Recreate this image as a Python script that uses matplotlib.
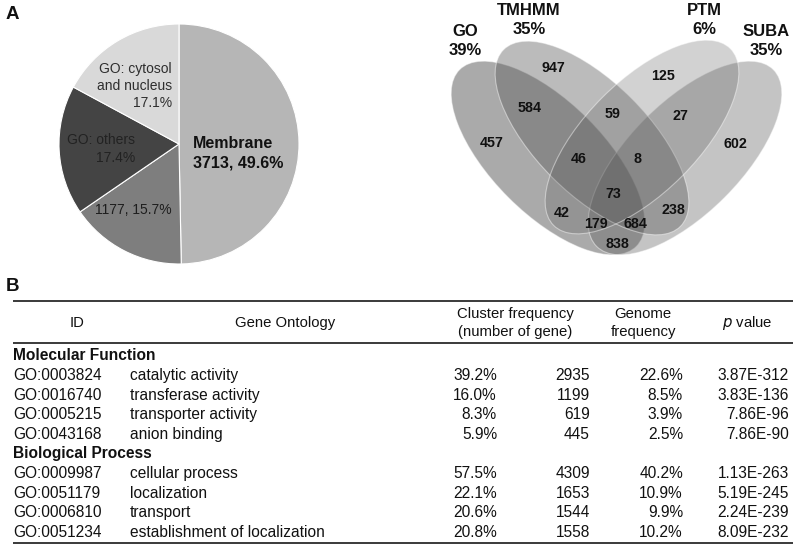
import matplotlib
matplotlib.use('Agg')
import matplotlib.pyplot as plt
from matplotlib.patches import Ellipse

plt.rcParams['font.family'] = ['Liberation Sans', 'DejaVu Sans']

# ---------------- data ----------------
pie_names = ['Membrane', '', 'GO: others', 'GO: cytosol\nand nucleus']
pie_pct = [49.6, 15.7, 17.4, 17.1]
pie_counts = [3713, 1177, None, None]
pie_colors = ['#b6b6b6', '#7e7e7e', '#444444', '#d9d9d9']

venn_sets = ['GO', 'TMHMM', 'PTM', 'SUBA']
venn_set_pct = [39, 35, 6, 35]
venn_region_keys = ['GO', 'TMHMM', 'PTM', 'SUBA',
                    'GO&TMHMM', 'TMHMM&PTM', 'PTM&SUBA',
                    'GO&TMHMM&PTM', 'TMHMM&PTM&SUBA', 'ALL',
                    'GO&PTM', 'TMHMM&SUBA', 'GO&PTM&SUBA',
                    'GO&TMHMM&SUBA', 'GO&SUBA']
venn_region_counts = [457, 947, 125, 602, 584, 59, 27, 46, 8, 73,
                      42, 238, 179, 684, 838]

table_header = ['ID', 'Gene Ontology', 'Cluster frequency\n(number of gene)',
                'Genome\nfrequency', 'p value']
mf_ids = ['GO:0003824', 'GO:0016740', 'GO:0005215', 'GO:0043168']
mf_terms = ['catalytic activity', 'transferase activity',
            'transporter activity', 'anion binding']
mf_cluster_pct = ['39.2%', '16.0%', '8.3%', '5.9%']
mf_genes = [2935, 1199, 619, 445]
mf_genome_pct = ['22.6%', '8.5%', '3.9%', '2.5%']
mf_p = ['3.87E-312', '3.83E-136', '7.86E-96', '7.86E-90']
bp_ids = ['GO:0009987', 'GO:0051179', 'GO:0006810', 'GO:0051234']
bp_terms = ['cellular process', 'localization', 'transport',
            'establishment of localization']
bp_cluster_pct = ['57.5%', '22.1%', '20.6%', '20.8%']
bp_genes = [4309, 1653, 1544, 1558]
bp_genome_pct = ['40.2%', '10.9%', '9.9%', '10.2%']
bp_p = ['1.13E-263', '5.19E-245', '2.24E-239', '8.09E-232']

# ---------------- figure ----------------
W, H = 796, 546
fig = plt.figure(figsize=(W / 100, H / 100), dpi=100)

# pie axes (pixel box)
pcx, pcy, pr = 179, 144, 120
box = 260
pax = fig.add_axes([(pcx - box / 2) / W, 1 - (pcy + box / 2) / H, box / W, box / H])
pax.pie(pie_pct, startangle=90, counterclock=False, colors=pie_colors,
        radius=1.0, wedgeprops=dict(edgecolor='white', linewidth=0.8))
lim = box / 2 / pr
pax.set_xlim(-lim, lim)
pax.set_ylim(-lim, lim)
pax.set_aspect('auto')
pax.axis('off')

ax = fig.add_axes([0, 0, 1, 1])
ax.set_xlim(0, W)
ax.set_ylim(H, 0)
ax.axis('off')

PX = 100 / 72.0


def T(x, yc, s, size, ha='center', weight='normal', color='#111111', **kw):
    """Place text so that its cap-height centre is at yc (pixels)."""
    ax.text(x, yc + 0.716 * size * PX / 2, s, ha=ha, va='baseline',
            fontsize=size, fontweight=weight, color=color, **kw)


# panel letters
T(6, 12, 'A', 13.5, ha='left', weight='bold')
T(6, 284, 'B', 13.5, ha='left', weight='bold')

# pie labels
T(193, 142, pie_names[0], 11.5, ha='left', weight='bold')
T(193, 162, f'{pie_counts[0]}, {pie_pct[0]}%', 11.5, ha='left', weight='bold')
cyt = pie_names[3].split('\n')
T(172, 68, cyt[0], 10, ha='right', color='#2e2e2e')
T(172, 85, cyt[1], 10, ha='right', color='#2e2e2e')
T(172, 102, f'{pie_pct[3]}%', 10, ha='right', color='#2e2e2e')
T(135, 139, pie_names[2], 10, ha='right', color='#222222')
T(135, 157, f'{pie_pct[2]}%', 10, ha='right', color='#222222')
T(172, 209, f'{pie_counts[1]}, {pie_pct[1]}%', 10, ha='right', color='#1e1e1e')

# venn ellipses
g = 0.36
ell_geom = {
    'GO': ((548, 158), 45, 0.52),
    'SUBA': ((685, 158), 135, 0.36),
    'TMHMM': ((592, 138), 45, 0.41),
    'PTM': ((642, 137), 135, 0.27),
}
for name in ['GO', 'SUBA', 'TMHMM', 'PTM']:
    (cx, cy), ang, a = ell_geom[name]
    e = Ellipse((cx, cy), width=250, height=112, angle=ang,
                facecolor=(g, g, g, a), edgecolor=(1, 1, 1, 0.45), linewidth=0.8)
    ax.add_patch(e)

set_label_pos = {'GO': (465, 30), 'TMHMM': (529, 9), 'PTM': (704, 9), 'SUBA': (766, 30)}
for name, pct in zip(venn_sets, venn_set_pct):
    x, y = set_label_pos[name]
    T(x, y, name, 12, weight='bold')
    T(x, y + 19, f'{pct}%', 12, weight='bold')

region_pos = {
    'GO': (492, 142), 'TMHMM': (553, 67), 'PTM': (663, 75), 'SUBA': (735, 143),
    'GO&TMHMM': (530, 107), 'TMHMM&PTM': (613, 113), 'PTM&SUBA': (680, 115),
    'GO&TMHMM&PTM': (579, 158), 'TMHMM&PTM&SUBA': (638, 158), 'ALL': (613, 193),
    'GO&PTM': (562, 212), 'TMHMM&SUBA': (673, 209), 'GO&PTM&SUBA': (596, 223),
    'GO&TMHMM&SUBA': (635, 223), 'GO&SUBA': (617, 243),
}
for k, v in zip(venn_region_keys, venn_region_counts):
    x, y = region_pos[k]
    T(x, y, str(v), 10.3, weight='bold')

# ---------------- table ----------------
rule_c = '#3a3a3a'
ax.plot([13, 793], [301, 301], color=rule_c, lw=1.4, solid_capstyle='butt')
ax.plot([13, 793], [343, 343], color=rule_c, lw=1.4, solid_capstyle='butt')
ax.plot([13, 793], [543, 543], color=rule_c, lw=1.4, solid_capstyle='butt')

hs = 10.7
T(77, 322, table_header[0], hs)
T(285, 322, table_header[1], hs)
c1, c2 = table_header[2].split('\n')
T(515, 313, c1, hs)
T(515, 331, c2, hs)
g1, g2 = table_header[3].split('\n')
T(643, 313, g1, hs)
T(643, 331, g2, hs)
ax.text(747, 322 + 0.716 * hs * PX / 2, r'$\it{p}$' + ' value', ha='center', va='baseline',
        fontsize=hs, color='#111111')

bs = 11.2
T(13, 354, 'Molecular Function', bs, ha='left', weight='bold')
T(13, 452, 'Biological Process', bs, ha='left', weight='bold')

mf_y = [374, 394, 413, 433]
bp_y = [472, 492, 511, 531]


def rows(ys, ids, terms, cp, genes, gp, pv):
    for y, i, t, c, n, gg, p in zip(ys, ids, terms, cp, genes, gp, pv):
        T(13, y, i, bs, ha='left')
        T(130, y, t, bs, ha='left')
        T(497, y, c, bs, ha='right')
        T(590, y, str(n), bs, ha='right')
        T(683, y, gg, bs, ha='right')
        T(789, y, p, bs, ha='right')


rows(mf_y, mf_ids, mf_terms, mf_cluster_pct, mf_genes, mf_genome_pct, mf_p)
rows(bp_y, bp_ids, bp_terms, bp_cluster_pct, bp_genes, bp_genome_pct, bp_p)

fig.savefig('out.png', dpi=100, facecolor='white')
